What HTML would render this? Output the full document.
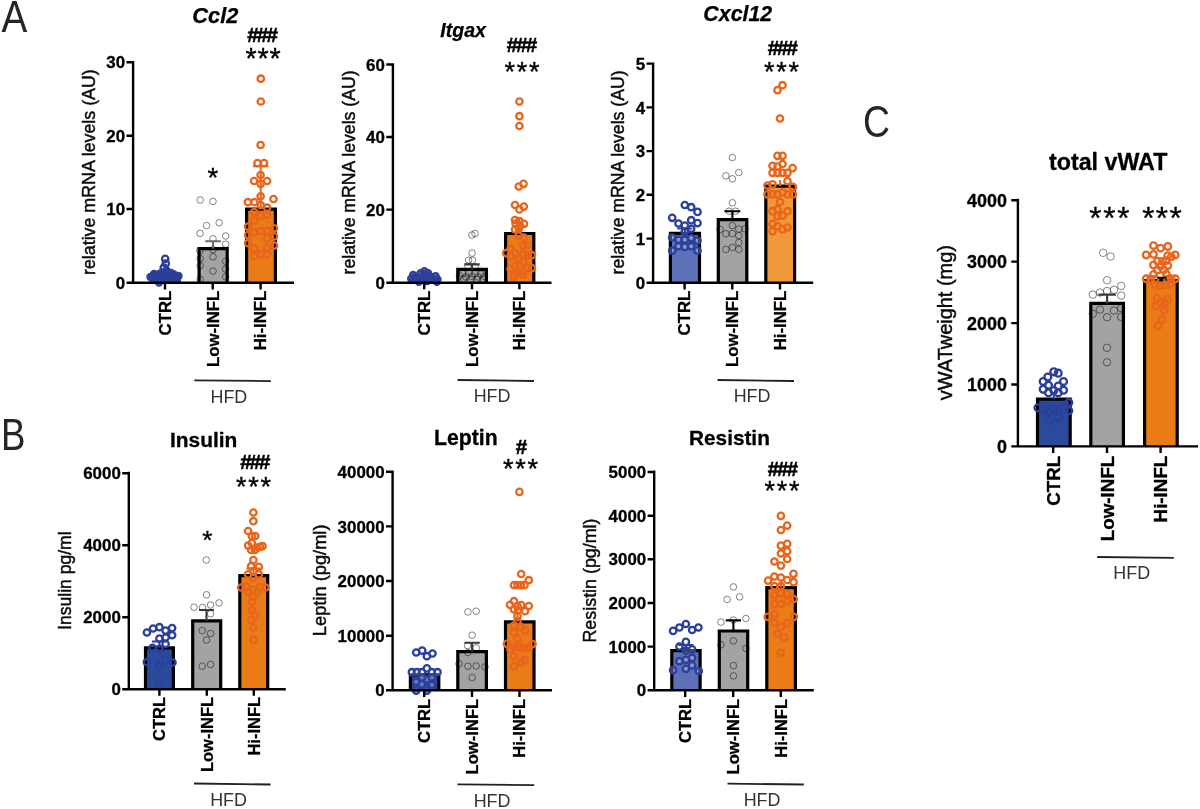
<!DOCTYPE html>
<html lang="en"><head><meta charset="utf-8"><title>Figure</title>
<style>
html,body{margin:0;padding:0;background:#fff;}
body{width:1200px;height:809px;overflow:hidden;}
svg{display:block;filter:blur(0.35px);}
text{font-family:"Liberation Sans", Arial, Helvetica, sans-serif;}
.b{font-weight:bold;fill:#000;stroke:#000;stroke-width:0.3;}
.bi{font-weight:bold;font-style:italic;fill:#000;stroke:#000;stroke-width:0.25;}
.r{fill:#0a0a0a;stroke:#0a0a0a;stroke-width:0.45;}
.s{fill:#000;stroke:#000;stroke-width:0.35;}
.hs{font-weight:bold;fill:#000;stroke:#000;stroke-width:0.55;}
.l{fill:#262522;}
.h{fill:#333;}
.ax{stroke:#000;stroke-width:2.4;fill:none;stroke-linecap:butt;}
.bar{stroke:#000;stroke-width:3.2;fill:none;stroke-linejoin:miter;}
.db{fill:none;stroke:#2b3f9b;stroke-width:2.3;}
.dbf{fill:#2b3f9b;fill-opacity:0.8;stroke:#2b3f9b;stroke-width:2;}
.dbw{fill:#fff;fill-opacity:0.28;stroke:#2b3f9b;stroke-width:2.3;}
.dg{fill:none;stroke:#000;stroke-opacity:0.5;stroke-width:0.95;}
.do{fill:none;stroke:#e8651c;stroke-width:2.3;}
.eb{stroke:#2b3f9b;stroke-width:2.1;fill:none;}
.eg{stroke:#6e6e6e;stroke-width:2.1;fill:none;}
.eo{stroke:#e8651c;stroke-width:2.1;fill:none;}
.ek{stroke:#000;stroke-width:2.1;fill:none;}
.ek2{stroke:#3c3c3c;stroke-width:2.1;fill:none;}
.hl{stroke:#222;stroke-width:1.8;fill:none;}
</style></head><body>
<svg width="1200" height="809" viewBox="0 0 1200 809">
<rect width="1200" height="809" fill="#fff"/>
<text class="l" transform="matrix(0.3864 0 0 0.4526 1.56 32)" font-size="100">A</text>
<text class="l" transform="matrix(0.3664 0 0 0.4486 0.97 450.25)" font-size="100">B</text>
<text class="l" transform="matrix(0.3730 0 0 0.4472 862.88 137.05)" font-size="100">C</text>
<g id="ccl2">
<rect x="150.5" y="277" width="29.5" height="5.8" fill="#2a4a9c"/>
<path class="bar" d="M151.1 282.8V277.6H179.4V282.8" style="stroke:#2b3f9b"/>
<rect x="198.5" y="248" width="29.3" height="34.8" fill="#a3a3a5"/>
<path class="bar" d="M199.1 282.8V248.6H227.2V282.8"/>
<rect x="246" y="208.5" width="30" height="74.3" fill="#ea7c17"/>
<path class="bar" d="M246.6 282.8V209.1H275.4V282.8"/>
<circle class="db" cx="165.2" cy="258.9" r="3.2"/>
<circle class="db" cx="165.8" cy="263.6" r="3.2"/>
<circle class="db" cx="163.8" cy="267.7" r="3.2"/>
<circle class="dbf" cx="166.5" cy="270.5" r="3.2"/>
<circle class="dbf" cx="152.5" cy="276.5" r="3.2"/>
<circle class="dbf" cx="155.5" cy="275.5" r="3.2"/>
<circle class="dbf" cx="158.5" cy="276.5" r="3.2"/>
<circle class="dbf" cx="161.5" cy="276" r="3.2"/>
<circle class="dbf" cx="164.5" cy="276.5" r="3.2"/>
<circle class="dbf" cx="167.5" cy="276" r="3.2"/>
<circle class="dbf" cx="170.5" cy="276.5" r="3.2"/>
<circle class="dbf" cx="173.5" cy="276" r="3.2"/>
<circle class="dbf" cx="176.5" cy="276.5" r="3.2"/>
<circle class="dbf" cx="178.5" cy="276" r="3.2"/>
<circle class="dbf" cx="154" cy="274" r="3.2"/>
<circle class="dbf" cx="160" cy="273.5" r="3.2"/>
<circle class="dbf" cx="168" cy="273.5" r="3.2"/>
<circle class="dbf" cx="174" cy="274.5" r="3.2"/>
<circle class="dbf" cx="163" cy="272.5" r="3.2"/>
<circle class="dbf" cx="171" cy="273" r="3.2"/>
<circle class="dbf" cx="157" cy="278" r="3.2"/>
<circle class="dbf" cx="159" cy="282.5" r="3.2"/>
<circle class="dbf" cx="150.5" cy="277" r="3.2"/>
<circle class="dbf" cx="169" cy="278" r="3.2"/>
<circle class="dg" cx="200.1" cy="200" r="3.3"/>
<circle class="dg" cx="213" cy="201.4" r="3.3"/>
<circle class="dg" cx="206.6" cy="225.6" r="3.3"/>
<circle class="dg" cx="219.2" cy="222.8" r="3.3"/>
<circle class="dg" cx="200.1" cy="233.4" r="3.3"/>
<circle class="dg" cx="225.7" cy="236" r="3.3"/>
<circle class="dg" cx="213" cy="238.8" r="3.3"/>
<circle class="dg" cx="225.7" cy="244.2" r="3.3"/>
<circle class="dg" cx="199.8" cy="250.7" r="3.3"/>
<circle class="dg" cx="213" cy="249.6" r="3.3"/>
<circle class="dg" cx="213" cy="256.8" r="3.3"/>
<circle class="dg" cx="200.1" cy="258.6" r="3.3"/>
<circle class="dg" cx="225.7" cy="261.3" r="3.3"/>
<circle class="dg" cx="200.1" cy="265.7" r="3.3"/>
<circle class="dg" cx="225.7" cy="269.1" r="3.3"/>
<circle class="dg" cx="213" cy="271.1" r="3.3"/>
<circle class="dg" cx="225.7" cy="276.8" r="3.3"/>
<circle class="dg" cx="200.1" cy="279.3" r="3.3"/>
<circle class="do" cx="260.8" cy="78.7" r="3.2"/>
<circle class="do" cx="260.8" cy="101.5" r="3.2"/>
<circle class="do" cx="260.6" cy="145" r="3.2"/>
<circle class="do" cx="257.5" cy="163.1" r="3.2"/>
<circle class="do" cx="264" cy="163.1" r="3.2"/>
<circle class="do" cx="260.6" cy="175" r="3.2"/>
<circle class="do" cx="254.1" cy="181" r="3.2"/>
<circle class="do" cx="267.1" cy="181" r="3.2"/>
<circle class="do" cx="260.6" cy="183.8" r="3.2"/>
<circle class="do" cx="260.6" cy="196.3" r="3.2"/>
<circle class="do" cx="273.5" cy="199" r="3.2"/>
<circle class="do" cx="247.9" cy="202.2" r="3.2"/>
<circle class="do" cx="254.3" cy="202.2" r="3.2"/>
<circle class="do" cx="260.7" cy="205.1" r="3.2"/>
<circle class="do" cx="267.1" cy="207.7" r="3.2"/>
<circle class="do" cx="254.2" cy="212" r="3.2"/>
<circle class="do" cx="260.7" cy="215.6" r="3.2"/>
<circle class="do" cx="267.1" cy="215" r="3.2"/>
<circle class="do" cx="254.2" cy="220.5" r="3.2"/>
<circle class="do" cx="248.1" cy="226.6" r="3.2"/>
<circle class="do" cx="274" cy="228.3" r="3.2"/>
<circle class="do" cx="254.2" cy="232.4" r="3.2"/>
<circle class="do" cx="260.8" cy="231" r="3.2"/>
<circle class="do" cx="267.2" cy="231" r="3.2"/>
<circle class="do" cx="248.1" cy="235.1" r="3.2"/>
<circle class="do" cx="274" cy="236.4" r="3.2"/>
<circle class="do" cx="267.2" cy="238.2" r="3.2"/>
<circle class="do" cx="248.1" cy="243.2" r="3.2"/>
<circle class="do" cx="274" cy="245.6" r="3.2"/>
<circle class="do" cx="254.2" cy="248.7" r="3.2"/>
<circle class="do" cx="267.2" cy="247.7" r="3.2"/>
<circle class="do" cx="254.2" cy="256.2" r="3.2"/>
<circle class="do" cx="260.8" cy="254.1" r="3.2"/>
<circle class="do" cx="267.2" cy="254.5" r="3.2"/>
<path class="eb" d="M165.2 274.2V277.5M160.2 274.2H170.2"/>
<path class="eg" d="M213 241.2V248.5M205.2 241.2H220.8"/>
<path class="eo" d="M260.7 166.2V209M252.9 166.2H268.5"/>
<path class="ax" d="M133.1 61.1V284M126.5 282.8H294M126.5 62.3H133.1M126.5 135.7H133.1M126.5 209H133.1M165 282.8V289.4M212.7 282.8V289.4M260.6 282.8V289.4"/>
<text class="b" x="125.1" y="68.43" font-size="16.9" text-anchor="end">30</text>
<text class="b" x="125.1" y="141.83" font-size="16.9" text-anchor="end">20</text>
<text class="b" x="125.1" y="215.13" font-size="16.9" text-anchor="end">10</text>
<text class="b" x="125.1" y="288.93" font-size="16.9" text-anchor="end">0</text>
<text class="b" transform="translate(170.88 290.63) rotate(-90)" font-size="16.8" text-anchor="end">CTRL</text>
<text class="b" transform="translate(218.58 290.63) rotate(-90)" font-size="16.8" text-anchor="end">Low-INFL</text>
<text class="b" transform="translate(266.48 290.63) rotate(-90)" font-size="16.8" text-anchor="end">Hi-INFL</text>
<text class="bi" x="192.31" y="22.5" font-size="21.8">Ccl2</text>
<text class="r" transform="translate(94.8 274.96) rotate(-90)" font-size="17.81">relative mRNA levels (AU)</text>
<text class="hs" x="247.15" y="41.5" font-size="20.5" letter-spacing="-1.7">###</text>
<text class="s" x="245.43" y="68.01" font-size="28.57" letter-spacing="0.89">***</text>
<text class="s" x="207.4" y="187.03" font-size="27.71" letter-spacing="0">*</text>
<path class="hl" d="M194.3 380.3L270.8 381.1"/>
<text class="h" transform="matrix(0.1792 0 0 0.1870 210.47 402.6)" font-size="100">HFD</text>
</g>
<g id="itgax">
<rect x="409.5" y="279.5" width="29.5" height="3.2" fill="#2a4a9c"/>
<path class="bar" d="M410.1 282.7V280.1H438.4V282.7" style="stroke:#2b3f9b"/>
<rect x="457.2" y="268.7" width="29.8" height="14" fill="#a3a3a5"/>
<path class="bar" d="M457.8 282.7V269.3H486.4V282.7"/>
<rect x="505" y="232.9" width="29.4" height="49.8" fill="#ea7c17"/>
<path class="bar" d="M505.6 282.7V233.5H533.8V282.7"/>
<circle class="dbf" cx="413.1" cy="275" r="3.2"/>
<circle class="dbf" cx="424.4" cy="271.2" r="3.2"/>
<circle class="dbf" cx="420.6" cy="273.1" r="3.2"/>
<circle class="dbf" cx="428.1" cy="273.1" r="3.2"/>
<circle class="dbf" cx="435.6" cy="276.2" r="3.2"/>
<circle class="dbf" cx="411.2" cy="278.8" r="3.2"/>
<circle class="dbf" cx="416.2" cy="279.4" r="3.2"/>
<circle class="dbf" cx="421.2" cy="278.8" r="3.2"/>
<circle class="dbf" cx="426.2" cy="278.8" r="3.2"/>
<circle class="dbf" cx="431.2" cy="278.8" r="3.2"/>
<circle class="dbf" cx="437.5" cy="279.4" r="3.2"/>
<circle class="dbf" cx="418.8" cy="281.9" r="3.2"/>
<circle class="dbf" cx="436.9" cy="281.9" r="3.2"/>
<circle class="dbf" cx="423" cy="276" r="3.2"/>
<circle class="dbf" cx="430" cy="276.5" r="3.2"/>
<circle class="dbf" cx="415.5" cy="277" r="3.2"/>
<circle class="dbf" cx="433" cy="279.5" r="3.2"/>
<circle class="dbf" cx="427" cy="281" r="3.2"/>
<circle class="dg" cx="471.9" cy="235" r="3.3"/>
<circle class="dg" cx="475" cy="233.5" r="3.3"/>
<circle class="dg" cx="472.1" cy="253.1" r="3.3"/>
<circle class="dg" cx="468.5" cy="260.2" r="3.3"/>
<circle class="dg" cx="472.5" cy="260.2" r="3.3"/>
<circle class="dg" cx="468.1" cy="266.2" r="3.3"/>
<circle class="dg" cx="475" cy="266.9" r="3.3"/>
<circle class="dg" cx="459.5" cy="276" r="3.3"/>
<circle class="dg" cx="462.5" cy="273.5" r="3.3"/>
<circle class="dg" cx="466" cy="277" r="3.3"/>
<circle class="dg" cx="469" cy="273" r="3.3"/>
<circle class="dg" cx="472" cy="276.5" r="3.3"/>
<circle class="dg" cx="475" cy="273.5" r="3.3"/>
<circle class="dg" cx="478" cy="277" r="3.3"/>
<circle class="dg" cx="481" cy="274" r="3.3"/>
<circle class="dg" cx="484.5" cy="276.5" r="3.3"/>
<circle class="dg" cx="463.5" cy="279" r="3.3"/>
<circle class="dg" cx="470.5" cy="279.5" r="3.3"/>
<circle class="dg" cx="477" cy="279.5" r="3.3"/>
<circle class="dg" cx="483" cy="279" r="3.3"/>
<circle class="do" cx="519.4" cy="101.5" r="3.2"/>
<circle class="do" cx="519.4" cy="116.2" r="3.2"/>
<circle class="do" cx="519.4" cy="126" r="3.2"/>
<circle class="do" cx="523.5" cy="183.8" r="3.2"/>
<circle class="do" cx="518.8" cy="186.5" r="3.2"/>
<circle class="do" cx="515" cy="205" r="3.2"/>
<circle class="do" cx="523.8" cy="206.6" r="3.2"/>
<circle class="do" cx="519.4" cy="209.4" r="3.2"/>
<circle class="do" cx="515" cy="220" r="3.2"/>
<circle class="do" cx="519.4" cy="221" r="3.2"/>
<circle class="do" cx="524" cy="223.8" r="3.2"/>
<circle class="do" cx="515.6" cy="223.5" r="3.2"/>
<circle class="do" cx="520" cy="225.6" r="3.2"/>
<circle class="do" cx="515" cy="229.4" r="3.2"/>
<circle class="do" cx="518.8" cy="228.8" r="3.2"/>
<circle class="do" cx="518.8" cy="235.6" r="3.2"/>
<circle class="do" cx="523.8" cy="237.5" r="3.2"/>
<circle class="do" cx="523.1" cy="245.6" r="3.2"/>
<circle class="do" cx="527.5" cy="245" r="3.2"/>
<circle class="do" cx="510.6" cy="248.8" r="3.2"/>
<circle class="do" cx="506.2" cy="253.1" r="3.2"/>
<circle class="do" cx="531.9" cy="255.2" r="3.2"/>
<circle class="do" cx="515" cy="253.1" r="3.2"/>
<circle class="do" cx="523.1" cy="254.4" r="3.2"/>
<circle class="do" cx="510.6" cy="256.2" r="3.2"/>
<circle class="do" cx="527.5" cy="255" r="3.2"/>
<circle class="do" cx="518.8" cy="258.8" r="3.2"/>
<circle class="do" cx="523.1" cy="261.9" r="3.2"/>
<circle class="do" cx="515" cy="266.2" r="3.2"/>
<circle class="do" cx="519.4" cy="266.9" r="3.2"/>
<circle class="do" cx="510.6" cy="268.8" r="3.2"/>
<circle class="do" cx="531.9" cy="268.1" r="3.2"/>
<circle class="do" cx="527.5" cy="268.1" r="3.2"/>
<circle class="do" cx="523.1" cy="271.2" r="3.2"/>
<circle class="do" cx="518.8" cy="273.8" r="3.2"/>
<circle class="do" cx="515" cy="275" r="3.2"/>
<circle class="do" cx="523.1" cy="275" r="3.2"/>
<circle class="do" cx="513.8" cy="277.5" r="3.2"/>
<path class="ek2" d="M472 264.4V269.2M464.3 264.4H479.7"/>
<path class="eo" d="M519.4 219V233.4"/>
<path class="ax" d="M392.9 63.3V283.9M386.3 282.7H551.5M386.3 64.5H392.9M386.3 137H392.9M386.3 209.6H392.9M424.2 282.7V289.3M472 282.7V289.3M519.4 282.7V289.3"/>
<text class="b" x="384.9" y="70.63" font-size="16.9" text-anchor="end">60</text>
<text class="b" x="384.9" y="143.13" font-size="16.9" text-anchor="end">40</text>
<text class="b" x="384.9" y="215.73" font-size="16.9" text-anchor="end">20</text>
<text class="b" x="384.9" y="288.83" font-size="16.9" text-anchor="end">0</text>
<text class="b" transform="translate(430.08 290.63) rotate(-90)" font-size="16.8" text-anchor="end">CTRL</text>
<text class="b" transform="translate(477.88 290.63) rotate(-90)" font-size="16.8" text-anchor="end">Low-INFL</text>
<text class="b" transform="translate(525.28 290.63) rotate(-90)" font-size="16.8" text-anchor="end">Hi-INFL</text>
<text class="bi" x="440.31" y="36.8" font-size="19.57">Itgax</text>
<text class="r" transform="translate(354.8 274.45) rotate(-90)" font-size="17.66">relative mRNA levels (AU)</text>
<text class="hs" x="506.66" y="51.8" font-size="20.2" letter-spacing="-1.56">###</text>
<text class="s" x="504.46" y="80.54" font-size="27.14" letter-spacing="1.69">***</text>
<path class="hl" d="M457.5 380L534 381"/>
<text class="h" transform="matrix(0.1792 0 0 0.1870 473.67 402.3)" font-size="100">HFD</text>
</g>
<g id="cxcl12">
<rect x="669.8" y="232.8" width="30.3" height="50" fill="#5e70b7"/>
<path class="bar" d="M670.4 282.8V233.4H699.5V282.8"/>
<rect x="717.7" y="219" width="29.7" height="63.8" fill="#a3a3a5"/>
<path class="bar" d="M718.3 282.8V219.6H746.8V282.8"/>
<rect x="765.2" y="185.6" width="30" height="97.2" fill="#f0983c"/>
<path class="bar" d="M765.8 282.8V186.2H794.6V282.8"/>
<circle class="dbw" cx="684.8" cy="205" r="3.2"/>
<circle class="dbw" cx="691.2" cy="207.2" r="3.2"/>
<circle class="dbw" cx="697.5" cy="211.9" r="3.2"/>
<circle class="dbw" cx="672.2" cy="217.8" r="3.2"/>
<circle class="dbw" cx="691.2" cy="220.2" r="3.2"/>
<circle class="dbw" cx="678.5" cy="223.5" r="3.2"/>
<circle class="dbw" cx="697.5" cy="223.1" r="3.2"/>
<circle class="dbw" cx="684.8" cy="225.6" r="3.2"/>
<circle class="dbw" cx="691.2" cy="228.8" r="3.2"/>
<circle class="dbw" cx="684.8" cy="231.9" r="3.2"/>
<circle class="dbw" cx="672.2" cy="237.5" r="3.2"/>
<circle class="dbw" cx="697.5" cy="240.6" r="3.2"/>
<circle class="dbw" cx="678.5" cy="239.8" r="3.2"/>
<circle class="dbw" cx="684.8" cy="239.8" r="3.2"/>
<circle class="dbw" cx="691.2" cy="238.1" r="3.2"/>
<circle class="dbw" cx="678.5" cy="246.2" r="3.2"/>
<circle class="dbw" cx="684.8" cy="246.9" r="3.2"/>
<circle class="dbw" cx="691.2" cy="246.2" r="3.2"/>
<circle class="dbw" cx="672.2" cy="250.6" r="3.2"/>
<circle class="dbw" cx="697.5" cy="250.6" r="3.2"/>
<circle class="dg" cx="732.4" cy="157.5" r="3.3"/>
<circle class="dg" cx="738.8" cy="172.5" r="3.3"/>
<circle class="dg" cx="725.9" cy="175.9" r="3.3"/>
<circle class="dg" cx="732.4" cy="178.8" r="3.3"/>
<circle class="dg" cx="732.4" cy="202.8" r="3.3"/>
<circle class="dg" cx="729.1" cy="211.2" r="3.3"/>
<circle class="dg" cx="735.6" cy="211.2" r="3.3"/>
<circle class="dg" cx="732.4" cy="225.6" r="3.3"/>
<circle class="dg" cx="738.8" cy="229" r="3.3"/>
<circle class="dg" cx="745" cy="228.8" r="3.3"/>
<circle class="dg" cx="720" cy="229.4" r="3.3"/>
<circle class="dg" cx="725.9" cy="233.8" r="3.3"/>
<circle class="dg" cx="732.4" cy="233.5" r="3.3"/>
<circle class="dg" cx="738.8" cy="235.6" r="3.3"/>
<circle class="dg" cx="738.8" cy="242.5" r="3.3"/>
<circle class="dg" cx="732.4" cy="247.5" r="3.3"/>
<circle class="dg" cx="725.9" cy="249.4" r="3.3"/>
<circle class="dg" cx="738.8" cy="249.4" r="3.3"/>
<circle class="do" cx="782.5" cy="85.2" r="3.2"/>
<circle class="do" cx="777.5" cy="90.2" r="3.2"/>
<circle class="do" cx="780" cy="118.5" r="3.2"/>
<circle class="do" cx="777.5" cy="155.8" r="3.2"/>
<circle class="do" cx="782.5" cy="155.8" r="3.2"/>
<circle class="do" cx="782.5" cy="164" r="3.2"/>
<circle class="do" cx="772.5" cy="165.8" r="3.2"/>
<circle class="do" cx="777.5" cy="166.6" r="3.2"/>
<circle class="do" cx="792.6" cy="168.1" r="3.2"/>
<circle class="do" cx="772.5" cy="172.8" r="3.2"/>
<circle class="do" cx="777.5" cy="172.8" r="3.2"/>
<circle class="do" cx="782.5" cy="172.8" r="3.2"/>
<circle class="do" cx="787.5" cy="172.8" r="3.2"/>
<circle class="do" cx="787.5" cy="181.2" r="3.2"/>
<circle class="do" cx="772.5" cy="184.4" r="3.2"/>
<circle class="do" cx="767.5" cy="185.6" r="3.2"/>
<circle class="do" cx="792.8" cy="186.9" r="3.2"/>
<circle class="do" cx="767.5" cy="194.4" r="3.2"/>
<circle class="do" cx="772.5" cy="194.4" r="3.2"/>
<circle class="do" cx="777.5" cy="194.4" r="3.2"/>
<circle class="do" cx="782.5" cy="192.5" r="3.2"/>
<circle class="do" cx="787.5" cy="194.4" r="3.2"/>
<circle class="do" cx="792.8" cy="194.4" r="3.2"/>
<circle class="do" cx="780" cy="201.9" r="3.2"/>
<circle class="do" cx="772.5" cy="211.2" r="3.2"/>
<circle class="do" cx="777.5" cy="209.4" r="3.2"/>
<circle class="do" cx="787.5" cy="211.2" r="3.2"/>
<circle class="do" cx="777.5" cy="216.2" r="3.2"/>
<circle class="do" cx="782.5" cy="215.6" r="3.2"/>
<circle class="do" cx="772.5" cy="223.8" r="3.2"/>
<circle class="do" cx="777.5" cy="226.2" r="3.2"/>
<circle class="do" cx="787.5" cy="227.5" r="3.2"/>
<circle class="do" cx="782.5" cy="229.4" r="3.2"/>
<circle class="do" cx="772.5" cy="231.2" r="3.2"/>
<path class="eb" d="M684.8 228.5V233.3M677.3 228.5H692.3"/>
<path class="ek" d="M732.4 211.2V219.5M724.4 211.2H740.4"/>
<path class="eo" d="M780 180V186.1"/>
<path class="ax" d="M653.1 62.4V284M646.5 282.8H813.2M646.5 63.6H653.1M646.5 107.4H653.1M646.5 151.1H653.1M646.5 194.8H653.1M646.5 238.6H653.1M684.6 282.8V289.4M732.3 282.8V289.4M780 282.8V289.4"/>
<text class="b" x="645.1" y="69.73" font-size="16.9" text-anchor="end">5</text>
<text class="b" x="645.1" y="113.53" font-size="16.9" text-anchor="end">4</text>
<text class="b" x="645.1" y="157.23" font-size="16.9" text-anchor="end">3</text>
<text class="b" x="645.1" y="200.93" font-size="16.9" text-anchor="end">2</text>
<text class="b" x="645.1" y="244.73" font-size="16.9" text-anchor="end">1</text>
<text class="b" x="645.1" y="288.93" font-size="16.9" text-anchor="end">0</text>
<text class="b" transform="translate(690.48 290.63) rotate(-90)" font-size="16.8" text-anchor="end">CTRL</text>
<text class="b" transform="translate(738.18 290.63) rotate(-90)" font-size="16.8" text-anchor="end">Low-INFL</text>
<text class="b" transform="translate(785.88 290.63) rotate(-90)" font-size="16.8" text-anchor="end">Hi-INFL</text>
<text class="bi" x="703.33" y="20.5" font-size="21.39">Cxcl12</text>
<text class="r" transform="translate(624.2 274.45) rotate(-90)" font-size="17.66">relative mRNA levels (AU)</text>
<text class="hs" x="767.65" y="54.5" font-size="20.5" letter-spacing="-1.95">###</text>
<text class="s" x="763.96" y="81.04" font-size="27.14" letter-spacing="1.69">***</text>
<path class="hl" d="M717.5 380L794 381"/>
<text class="h" transform="matrix(0.1792 0 0 0.1870 733.67 402.3)" font-size="100">HFD</text>
</g>
<g id="insulin">
<rect x="144.9" y="647.2" width="29.1" height="42" fill="#2a4a9c"/>
<path class="bar" d="M145.5 689.2V647.8H173.4V689.2"/>
<rect x="192.1" y="620.2" width="29.2" height="69" fill="#a3a3a5"/>
<path class="bar" d="M192.7 689.2V620.8H220.7V689.2"/>
<rect x="239.2" y="575" width="29.1" height="114.2" fill="#ea7c17"/>
<path class="bar" d="M239.8 689.2V575.6H267.7V689.2"/>
<circle class="db" cx="146.9" cy="632.5" r="3.2"/>
<circle class="db" cx="153.1" cy="628.5" r="3.2"/>
<circle class="db" cx="159.4" cy="627.2" r="3.2"/>
<circle class="db" cx="165.6" cy="630.6" r="3.2"/>
<circle class="db" cx="172.1" cy="628.1" r="3.2"/>
<circle class="db" cx="172.1" cy="635.2" r="3.2"/>
<circle class="db" cx="165.6" cy="637.5" r="3.2"/>
<circle class="db" cx="159.4" cy="638.5" r="3.2"/>
<circle class="db" cx="165.6" cy="644" r="3.2"/>
<circle class="db" cx="152.5" cy="647.8" r="3.2"/>
<circle class="db" cx="159.4" cy="648.8" r="3.2"/>
<circle class="db" cx="146.9" cy="662.2" r="3.2"/>
<circle class="db" cx="165.6" cy="659.8" r="3.2"/>
<circle class="db" cx="172.5" cy="662.5" r="3.2"/>
<circle class="db" cx="159.4" cy="665.6" r="3.2"/>
<circle class="db" cx="159.4" cy="682.5" r="3.2"/>
<circle class="dg" cx="206.3" cy="560" r="3.3"/>
<circle class="dg" cx="206.5" cy="594.8" r="3.3"/>
<circle class="dg" cx="219" cy="602.9" r="3.3"/>
<circle class="dg" cx="210.6" cy="605" r="3.3"/>
<circle class="dg" cx="194" cy="607.2" r="3.3"/>
<circle class="dg" cx="202.5" cy="607.5" r="3.3"/>
<circle class="dg" cx="210.6" cy="613.8" r="3.3"/>
<circle class="dg" cx="202.2" cy="630.6" r="3.3"/>
<circle class="dg" cx="210.6" cy="633.5" r="3.3"/>
<circle class="dg" cx="206.5" cy="640" r="3.3"/>
<circle class="dg" cx="210.6" cy="664.4" r="3.3"/>
<circle class="dg" cx="202.2" cy="666.2" r="3.3"/>
<circle class="do" cx="253.4" cy="512.5" r="3.2"/>
<circle class="do" cx="253.4" cy="521.2" r="3.2"/>
<circle class="do" cx="248.1" cy="531" r="3.2"/>
<circle class="do" cx="251.9" cy="536.2" r="3.2"/>
<circle class="do" cx="255.2" cy="536" r="3.2"/>
<circle class="do" cx="251.9" cy="543.1" r="3.2"/>
<circle class="do" cx="248.1" cy="545.6" r="3.2"/>
<circle class="do" cx="262.5" cy="546.2" r="3.2"/>
<circle class="do" cx="257.5" cy="547.5" r="3.2"/>
<circle class="do" cx="260" cy="546.9" r="3.2"/>
<circle class="do" cx="251.2" cy="550" r="3.2"/>
<circle class="do" cx="255" cy="550" r="3.2"/>
<circle class="do" cx="253.4" cy="560" r="3.2"/>
<circle class="do" cx="251.2" cy="566.2" r="3.2"/>
<circle class="do" cx="258.8" cy="566.9" r="3.2"/>
<circle class="do" cx="253.4" cy="571.2" r="3.2"/>
<circle class="do" cx="248.1" cy="574.4" r="3.2"/>
<circle class="do" cx="258.8" cy="574.4" r="3.2"/>
<circle class="do" cx="253.4" cy="578.1" r="3.2"/>
<circle class="do" cx="241.2" cy="587.5" r="3.2"/>
<circle class="do" cx="265.6" cy="587.5" r="3.2"/>
<circle class="do" cx="246.2" cy="586.9" r="3.2"/>
<circle class="do" cx="260" cy="586.9" r="3.2"/>
<circle class="do" cx="253.4" cy="589.4" r="3.2"/>
<circle class="do" cx="248.1" cy="591.9" r="3.2"/>
<circle class="do" cx="257.5" cy="591.9" r="3.2"/>
<circle class="do" cx="253.4" cy="596.2" r="3.2"/>
<circle class="do" cx="251.9" cy="601.9" r="3.2"/>
<circle class="do" cx="251.9" cy="610" r="3.2"/>
<circle class="do" cx="255.2" cy="615.6" r="3.2"/>
<circle class="do" cx="251.2" cy="620" r="3.2"/>
<circle class="do" cx="253.4" cy="627.5" r="3.2"/>
<circle class="do" cx="253.4" cy="639.8" r="3.2"/>
<path class="eb" d="M159.4 641.5V647.7M151.9 641.5H166.9"/>
<path class="ek2" d="M206.5 610V620.7M199 610H214"/>
<path class="eo" d="M253.4 568.5V575.5M246.4 568.5H260.4"/>
<path class="ax" d="M128.8 471.8V690.4M122.2 689.2H285.8M122.2 473.2H128.8M122.2 545.2H128.8M122.2 617.2H128.8M159.4 689.2V695.8M206.8 689.2V695.8M253.8 689.2V695.8"/>
<text class="b" x="120.8" y="479.33" font-size="16.9" text-anchor="end">6000</text>
<text class="b" x="120.8" y="551.33" font-size="16.9" text-anchor="end">4000</text>
<text class="b" x="120.8" y="623.33" font-size="16.9" text-anchor="end">2000</text>
<text class="b" x="120.8" y="695.33" font-size="16.9" text-anchor="end">0</text>
<text class="b" transform="translate(165.18 696.94) rotate(-90)" font-size="16.5" text-anchor="end">CTRL</text>
<text class="b" transform="translate(212.58 696.94) rotate(-90)" font-size="16.5" text-anchor="end">Low-INFL</text>
<text class="b" transform="translate(259.57 696.94) rotate(-90)" font-size="16.5" text-anchor="end">Hi-INFL</text>
<text class="b" x="170.04" y="447" font-size="20.9">Insulin</text>
<text class="r" transform="translate(71 629.88) rotate(-90)" font-size="17.54">Insulin pg/ml</text>
<text class="hs" x="240.15" y="468.5" font-size="20.5" letter-spacing="-1.95">###</text>
<text class="s" x="235.96" y="495.54" font-size="27.14" letter-spacing="1.69">***</text>
<text class="s" x="202.37" y="549.15" font-size="26.29" letter-spacing="0">*</text>
<path class="hl" d="M194 783.5L270.5 784.5"/>
<text class="h" transform="matrix(0.1792 0 0 0.1870 210.17 805.8)" font-size="100">HFD</text>
</g>
<g id="leptin">
<rect x="409.8" y="674.3" width="29.6" height="16" fill="#2a4a9c"/>
<path class="bar" d="M410.4 690.3V674.9H438.8V690.3"/>
<rect x="457.2" y="651.1" width="29.8" height="39.2" fill="#a3a3a5"/>
<path class="bar" d="M457.8 690.3V651.7H486.4V690.3"/>
<rect x="504.9" y="621.2" width="29.7" height="69.1" fill="#ea7c17"/>
<path class="bar" d="M505.5 690.3V621.8H534V690.3"/>
<circle class="dbw" cx="416.2" cy="652.5" r="3.2"/>
<circle class="dbw" cx="422.2" cy="650.6" r="3.2"/>
<circle class="dbw" cx="426.9" cy="656.2" r="3.2"/>
<circle class="dbw" cx="432.5" cy="653.5" r="3.2"/>
<circle class="dbw" cx="426.9" cy="668.4" r="3.2"/>
<circle class="dbw" cx="411.9" cy="672.2" r="3.2"/>
<circle class="dbw" cx="416.9" cy="672.2" r="3.2"/>
<circle class="dbw" cx="421.9" cy="672.2" r="3.2"/>
<circle class="dbw" cx="431.9" cy="672.2" r="3.2"/>
<circle class="dbw" cx="437.5" cy="672.2" r="3.2"/>
<circle class="dbw" cx="416.2" cy="681.9" r="3.2"/>
<circle class="dbw" cx="421.9" cy="684.4" r="3.2"/>
<circle class="dbw" cx="426.9" cy="679.4" r="3.2"/>
<circle class="dbw" cx="431.9" cy="677.5" r="3.2"/>
<circle class="dbw" cx="431.9" cy="685" r="3.2"/>
<circle class="dbw" cx="416.2" cy="688.1" r="3.2"/>
<circle class="dbw" cx="426.9" cy="688.1" r="3.2"/>
<circle class="dbw" cx="421.9" cy="677.5" r="3.2"/>
<circle class="dbw" cx="416.2" cy="690.6" r="3.2"/>
<circle class="dbw" cx="426.9" cy="690.6" r="3.2"/>
<circle class="dg" cx="467.9" cy="611.9" r="3.3"/>
<circle class="dg" cx="476.2" cy="611.2" r="3.3"/>
<circle class="dg" cx="472.1" cy="635.2" r="3.3"/>
<circle class="dg" cx="467.5" cy="645.6" r="3.3"/>
<circle class="dg" cx="476.2" cy="647.8" r="3.3"/>
<circle class="dg" cx="467.9" cy="652.5" r="3.3"/>
<circle class="dg" cx="459" cy="663.8" r="3.3"/>
<circle class="dg" cx="467.9" cy="666.2" r="3.3"/>
<circle class="dg" cx="476.2" cy="666" r="3.3"/>
<circle class="dg" cx="485" cy="666.9" r="3.3"/>
<circle class="dg" cx="472.1" cy="677.5" r="3.3"/>
<circle class="do" cx="519.4" cy="491.9" r="3.2"/>
<circle class="do" cx="521.2" cy="574" r="3.2"/>
<circle class="do" cx="528.8" cy="580.2" r="3.2"/>
<circle class="do" cx="514" cy="585.2" r="3.2"/>
<circle class="do" cx="517.5" cy="585.2" r="3.2"/>
<circle class="do" cx="521" cy="585.2" r="3.2"/>
<circle class="do" cx="524.5" cy="585.2" r="3.2"/>
<circle class="do" cx="514" cy="601.2" r="3.2"/>
<circle class="do" cx="510" cy="604.8" r="3.2"/>
<circle class="do" cx="521.2" cy="605" r="3.2"/>
<circle class="do" cx="528.8" cy="606" r="3.2"/>
<circle class="do" cx="517.5" cy="606.2" r="3.2"/>
<circle class="do" cx="514" cy="609.4" r="3.2"/>
<circle class="do" cx="518.1" cy="610" r="3.2"/>
<circle class="do" cx="525" cy="611.2" r="3.2"/>
<circle class="do" cx="517.5" cy="616.2" r="3.2"/>
<circle class="do" cx="517.5" cy="621.2" r="3.2"/>
<circle class="do" cx="514" cy="625.6" r="3.2"/>
<circle class="do" cx="520.6" cy="626.9" r="3.2"/>
<circle class="do" cx="525" cy="630.6" r="3.2"/>
<circle class="do" cx="514" cy="632.5" r="3.2"/>
<circle class="do" cx="517.5" cy="638.8" r="3.2"/>
<circle class="do" cx="506.9" cy="643.8" r="3.2"/>
<circle class="do" cx="532.5" cy="644" r="3.2"/>
<circle class="do" cx="514" cy="646.9" r="3.2"/>
<circle class="do" cx="517.5" cy="646.2" r="3.2"/>
<circle class="do" cx="521" cy="648.1" r="3.2"/>
<circle class="do" cx="524.5" cy="648.1" r="3.2"/>
<circle class="do" cx="528.8" cy="647.5" r="3.2"/>
<circle class="do" cx="510.6" cy="649.4" r="3.2"/>
<circle class="do" cx="514" cy="656.2" r="3.2"/>
<circle class="do" cx="524.5" cy="660" r="3.2"/>
<circle class="do" cx="521.2" cy="662.5" r="3.2"/>
<circle class="do" cx="514" cy="666.4" r="3.2"/>
<path class="ek2" d="M472.1 642.8V651.6M464.4 642.8H479.8"/>
<path class="eo" d="M517.5 612V621.7"/>
<path class="ax" d="M392.6 470.4V691.5M386 690.3H552M386 471.7H392.6M386 526.4H392.6M386 581H392.6M386 635.7H392.6M424.2 690.3V696.9M472 690.3V696.9M519.5 690.3V696.9"/>
<text class="b" x="384.6" y="477.83" font-size="16.9" text-anchor="end">40000</text>
<text class="b" x="384.6" y="532.53" font-size="16.9" text-anchor="end">30000</text>
<text class="b" x="384.6" y="587.13" font-size="16.9" text-anchor="end">20000</text>
<text class="b" x="384.6" y="641.83" font-size="16.9" text-anchor="end">10000</text>
<text class="b" x="384.6" y="696.43" font-size="16.9" text-anchor="end">0</text>
<text class="b" transform="translate(430.01 698.84) rotate(-90)" font-size="16.6" text-anchor="end">CTRL</text>
<text class="b" transform="translate(477.81 698.84) rotate(-90)" font-size="16.6" text-anchor="end">Low-INFL</text>
<text class="b" transform="translate(525.31 698.84) rotate(-90)" font-size="16.6" text-anchor="end">Hi-INFL</text>
<text class="b" x="434.02" y="445" font-size="21.22">Leptin</text>
<text class="r" transform="translate(326.1 636.16) rotate(-90)" font-size="18.27">Leptin (pg/ml)</text>
<text class="hs" x="515.85" y="453.8" font-size="20.5" letter-spacing="0">#</text>
<text class="s" x="502.96" y="477.54" font-size="27.14" letter-spacing="1.69">***</text>
<path class="hl" d="M457.5 784.3L534.2 785.2"/>
<text class="h" transform="matrix(0.1792 0 0 0.1870 473.67 806.6)" font-size="100">HFD</text>
</g>
<g id="resistin">
<rect x="671.2" y="650" width="29.5" height="40.3" fill="#5e70b7"/>
<path class="bar" d="M671.8 690.3V650.6H700.1V690.3"/>
<rect x="718.7" y="630.4" width="29.6" height="59.9" fill="#a3a3a5"/>
<path class="bar" d="M719.3 690.3V631H747.7V690.3"/>
<rect x="766.2" y="587" width="29.8" height="103.3" fill="#ea7c17"/>
<path class="bar" d="M766.8 690.3V587.6H795.4V690.3"/>
<circle class="dbw" cx="685.9" cy="624" r="3.2"/>
<circle class="dbw" cx="679.4" cy="627.5" r="3.2"/>
<circle class="dbw" cx="698.4" cy="627.5" r="3.2"/>
<circle class="dbw" cx="692.1" cy="630" r="3.2"/>
<circle class="dbw" cx="673.1" cy="630.9" r="3.2"/>
<circle class="dbw" cx="685.9" cy="641.9" r="3.2"/>
<circle class="dbw" cx="679.4" cy="646.5" r="3.2"/>
<circle class="dbw" cx="692.1" cy="649.4" r="3.2"/>
<circle class="dbw" cx="685.9" cy="650.6" r="3.2"/>
<circle class="dbw" cx="692.1" cy="657.9" r="3.2"/>
<circle class="dbw" cx="685.9" cy="659.8" r="3.2"/>
<circle class="dbw" cx="679.4" cy="661.2" r="3.2"/>
<circle class="dbw" cx="692.1" cy="665.4" r="3.2"/>
<circle class="dbw" cx="685.9" cy="668.8" r="3.2"/>
<circle class="dbw" cx="673.1" cy="670.2" r="3.2"/>
<circle class="dbw" cx="698.8" cy="671" r="3.2"/>
<circle class="dg" cx="733.4" cy="586.9" r="3.3"/>
<circle class="dg" cx="739.6" cy="596.9" r="3.3"/>
<circle class="dg" cx="727.1" cy="599.4" r="3.3"/>
<circle class="dg" cx="745.9" cy="618.5" r="3.3"/>
<circle class="dg" cx="720.9" cy="622.1" r="3.3"/>
<circle class="dg" cx="733.4" cy="620" r="3.3"/>
<circle class="dg" cx="733.4" cy="640.9" r="3.3"/>
<circle class="dg" cx="720.9" cy="644.8" r="3.3"/>
<circle class="dg" cx="745.9" cy="648.4" r="3.3"/>
<circle class="dg" cx="733.4" cy="665.6" r="3.3"/>
<circle class="dg" cx="733.4" cy="675.9" r="3.3"/>
<circle class="do" cx="780.9" cy="515.9" r="3.2"/>
<circle class="do" cx="787.2" cy="525.6" r="3.2"/>
<circle class="do" cx="780.9" cy="530" r="3.2"/>
<circle class="do" cx="787.2" cy="543.8" r="3.2"/>
<circle class="do" cx="780.9" cy="545.6" r="3.2"/>
<circle class="do" cx="787.2" cy="551.2" r="3.2"/>
<circle class="do" cx="780.9" cy="553.5" r="3.2"/>
<circle class="do" cx="787.2" cy="559" r="3.2"/>
<circle class="do" cx="774.4" cy="561.5" r="3.2"/>
<circle class="do" cx="780.9" cy="565.6" r="3.2"/>
<circle class="do" cx="793.5" cy="573.8" r="3.2"/>
<circle class="do" cx="774.4" cy="576.5" r="3.2"/>
<circle class="do" cx="780.9" cy="577.5" r="3.2"/>
<circle class="do" cx="768.1" cy="580.6" r="3.2"/>
<circle class="do" cx="787.2" cy="580" r="3.2"/>
<circle class="do" cx="793.5" cy="582.2" r="3.2"/>
<circle class="do" cx="774.4" cy="586.2" r="3.2"/>
<circle class="do" cx="780.9" cy="586.2" r="3.2"/>
<circle class="do" cx="774.4" cy="595.3" r="3.2"/>
<circle class="do" cx="780.9" cy="593.3" r="3.2"/>
<circle class="do" cx="787.2" cy="593.8" r="3.2"/>
<circle class="do" cx="793.7" cy="599" r="3.2"/>
<circle class="do" cx="787.2" cy="601.2" r="3.2"/>
<circle class="do" cx="774.4" cy="604.4" r="3.2"/>
<circle class="do" cx="780.9" cy="604" r="3.2"/>
<circle class="do" cx="774.4" cy="614.4" r="3.2"/>
<circle class="do" cx="767.8" cy="616.9" r="3.2"/>
<circle class="do" cx="793.8" cy="616.9" r="3.2"/>
<circle class="do" cx="774.4" cy="622.8" r="3.2"/>
<circle class="do" cx="787.2" cy="623.1" r="3.2"/>
<circle class="do" cx="780.9" cy="626.9" r="3.2"/>
<circle class="do" cx="777.5" cy="633.8" r="3.2"/>
<circle class="do" cx="784.1" cy="637.5" r="3.2"/>
<circle class="do" cx="780.9" cy="652.8" r="3.2"/>
<path class="eb" d="M685.9 645V650.5M678.4 645H693.4"/>
<path class="ek" d="M733.4 620.4V630.9M725.8 620.4H741"/>
<path class="eo" d="M780.9 581V587.5"/>
<path class="ax" d="M654.2 470.6V691.5M647.6 690.3H813.8M647.6 472H654.2M647.6 515.7H654.2M647.6 559.3H654.2M647.6 603H654.2M647.6 646.6H654.2M685.2 690.3V696.9M733.2 690.3V696.9M780.8 690.3V696.9"/>
<text class="b" x="646.2" y="478.13" font-size="16.9" text-anchor="end">5000</text>
<text class="b" x="646.2" y="521.83" font-size="16.9" text-anchor="end">4000</text>
<text class="b" x="646.2" y="565.43" font-size="16.9" text-anchor="end">3000</text>
<text class="b" x="646.2" y="609.13" font-size="16.9" text-anchor="end">2000</text>
<text class="b" x="646.2" y="652.73" font-size="16.9" text-anchor="end">1000</text>
<text class="b" x="646.2" y="696.43" font-size="16.9" text-anchor="end">0</text>
<text class="b" transform="translate(691.01 698.84) rotate(-90)" font-size="16.6" text-anchor="end">CTRL</text>
<text class="b" transform="translate(739.01 698.84) rotate(-90)" font-size="16.6" text-anchor="end">Low-INFL</text>
<text class="b" transform="translate(786.61 698.84) rotate(-90)" font-size="16.6" text-anchor="end">Hi-INFL</text>
<text class="b" x="689.05" y="445" font-size="20.77">Resistin</text>
<text class="r" transform="translate(596.4 642.53) rotate(-90)" font-size="17.87">Resistin (pg/ml)</text>
<text class="hs" x="767.66" y="475.5" font-size="19.77" letter-spacing="-1.35">###</text>
<text class="s" x="764.46" y="500.04" font-size="27.14" letter-spacing="1.69">***</text>
<path class="hl" d="M727.5 783.6L803.8 784.5"/>
<text class="h" transform="matrix(0.1792 0 0 0.1870 743.67 805.9)" font-size="100">HFD</text>
</g>
<g id="vwat">
<rect x="1036.9" y="398.6" width="33.9" height="47.8" fill="#2a4a9c"/>
<path class="bar" d="M1037.5 446.4V399.2H1070.2V446.4"/>
<rect x="1090.2" y="302.7" width="33.8" height="143.7" fill="#a3a3a5"/>
<path class="bar" d="M1090.8 446.4V303.3H1123.4V446.4"/>
<rect x="1144" y="280" width="33.8" height="166.4" fill="#ea7c17"/>
<path class="bar" d="M1144.6 446.4V280.6H1177.2V446.4"/>
<circle class="db" cx="1053.8" cy="371.8" r="3.45"/>
<circle class="db" cx="1058.2" cy="373.2" r="3.45"/>
<circle class="db" cx="1047.8" cy="377" r="3.45"/>
<circle class="db" cx="1043.2" cy="381.5" r="3.45"/>
<circle class="db" cx="1063.5" cy="381.5" r="3.45"/>
<circle class="db" cx="1048.5" cy="385.2" r="3.45"/>
<circle class="db" cx="1058.2" cy="386" r="3.45"/>
<circle class="db" cx="1043.2" cy="389.3" r="3.45"/>
<circle class="db" cx="1063.5" cy="390.2" r="3.45"/>
<circle class="db" cx="1053.8" cy="390.5" r="3.45"/>
<circle class="db" cx="1048.5" cy="392.8" r="3.45"/>
<circle class="db" cx="1058.2" cy="392.8" r="3.45"/>
<circle class="db" cx="1038" cy="407.8" r="3.45"/>
<circle class="db" cx="1068.8" cy="402.5" r="3.45"/>
<circle class="db" cx="1068.8" cy="410.8" r="3.45"/>
<circle class="db" cx="1044" cy="410" r="3.45"/>
<circle class="db" cx="1048.5" cy="411.5" r="3.45"/>
<circle class="db" cx="1053.8" cy="408.5" r="3.45"/>
<circle class="db" cx="1058.2" cy="410" r="3.45"/>
<circle class="db" cx="1063.5" cy="407.8" r="3.45"/>
<circle class="db" cx="1058.2" cy="417.5" r="3.45"/>
<circle class="db" cx="1048.5" cy="420.5" r="3.45"/>
<circle class="dg" cx="1103.1" cy="252.8" r="3.75"/>
<circle class="dg" cx="1110.6" cy="256.5" r="3.75"/>
<circle class="dg" cx="1107.1" cy="280.2" r="3.75"/>
<circle class="dg" cx="1121.2" cy="285.9" r="3.75"/>
<circle class="dg" cx="1114" cy="289.8" r="3.75"/>
<circle class="dg" cx="1107.1" cy="291" r="3.75"/>
<circle class="dg" cx="1100" cy="292.5" r="3.75"/>
<circle class="dg" cx="1092.8" cy="294.6" r="3.75"/>
<circle class="dg" cx="1121.2" cy="295.6" r="3.75"/>
<circle class="dg" cx="1100" cy="309.6" r="3.75"/>
<circle class="dg" cx="1114" cy="310.6" r="3.75"/>
<circle class="dg" cx="1121.2" cy="308.1" r="3.75"/>
<circle class="dg" cx="1092.8" cy="313.8" r="3.75"/>
<circle class="dg" cx="1107.1" cy="317.2" r="3.75"/>
<circle class="dg" cx="1121.2" cy="316.9" r="3.75"/>
<circle class="dg" cx="1107" cy="347.8" r="3.75"/>
<circle class="dg" cx="1107" cy="362.3" r="3.75"/>
<circle class="do" cx="1153.5" cy="245.6" r="3.3"/>
<circle class="do" cx="1160.6" cy="248.1" r="3.3"/>
<circle class="do" cx="1167.8" cy="246.5" r="3.3"/>
<circle class="do" cx="1146.2" cy="255" r="3.3"/>
<circle class="do" cx="1153.5" cy="254.4" r="3.3"/>
<circle class="do" cx="1175.2" cy="255" r="3.3"/>
<circle class="do" cx="1171.2" cy="256.9" r="3.3"/>
<circle class="do" cx="1167.8" cy="255.6" r="3.3"/>
<circle class="do" cx="1157.5" cy="261.2" r="3.3"/>
<circle class="do" cx="1162.5" cy="261.2" r="3.3"/>
<circle class="do" cx="1166.2" cy="260.6" r="3.3"/>
<circle class="do" cx="1153.5" cy="265" r="3.3"/>
<circle class="do" cx="1167.8" cy="265.6" r="3.3"/>
<circle class="do" cx="1160.6" cy="266.2" r="3.3"/>
<circle class="do" cx="1157.5" cy="270" r="3.3"/>
<circle class="do" cx="1163.8" cy="270" r="3.3"/>
<circle class="do" cx="1153.5" cy="274.4" r="3.3"/>
<circle class="do" cx="1166.2" cy="273.8" r="3.3"/>
<circle class="do" cx="1146.2" cy="278.8" r="3.3"/>
<circle class="do" cx="1150.6" cy="279.2" r="3.3"/>
<circle class="do" cx="1155" cy="279.2" r="3.3"/>
<circle class="do" cx="1167.5" cy="279.2" r="3.3"/>
<circle class="do" cx="1171.2" cy="278.8" r="3.3"/>
<circle class="do" cx="1175.2" cy="278.8" r="3.3"/>
<circle class="do" cx="1155" cy="285" r="3.3"/>
<circle class="do" cx="1160" cy="285.6" r="3.3"/>
<circle class="do" cx="1165" cy="285" r="3.3"/>
<circle class="do" cx="1170" cy="284.4" r="3.3"/>
<circle class="do" cx="1156.9" cy="298.1" r="3.3"/>
<circle class="do" cx="1167.5" cy="299.4" r="3.3"/>
<circle class="do" cx="1160.6" cy="302.5" r="3.3"/>
<circle class="do" cx="1155.6" cy="306.2" r="3.3"/>
<circle class="do" cx="1165" cy="303.1" r="3.3"/>
<circle class="do" cx="1164.1" cy="310.6" r="3.3"/>
<circle class="do" cx="1161.9" cy="319.4" r="3.3"/>
<circle class="do" cx="1158.1" cy="326" r="3.3"/>
<path class="eb" d="M1053.8 392V399.1"/>
<path class="ek2" d="M1107.1 294.6V303.2M1098.35 294.6H1115.85"/>
<path class="ek" d="M1161.9 277.8V280.5M1157.4 277.8H1166.4"/>
<path class="ax" d="M1017.9 198.8V447.6M1011.3 446.4H1198M1011.3 200.2H1017.9M1011.3 261.6H1017.9M1011.3 323.1H1017.9M1011.3 384.5H1017.9M1053.2 446.4V453M1107 446.4V453M1160.6 446.4V453"/>
<text class="b" x="1006.9" y="206.68" font-size="17.9" text-anchor="end">4000</text>
<text class="b" x="1006.9" y="268.08" font-size="17.9" text-anchor="end">3000</text>
<text class="b" x="1006.9" y="329.58" font-size="17.9" text-anchor="end">2000</text>
<text class="b" x="1006.9" y="390.98" font-size="17.9" text-anchor="end">1000</text>
<text class="b" x="1006.9" y="452.88" font-size="17.9" text-anchor="end">0</text>
<text class="b" transform="translate(1059.78 455.65) rotate(-90)" font-size="18.8" text-anchor="end">CTRL</text>
<text class="b" transform="translate(1113.58 455.65) rotate(-90)" font-size="18.8" text-anchor="end">Low-INFL</text>
<text class="b" transform="translate(1167.18 455.65) rotate(-90)" font-size="18.8" text-anchor="end">Hi-INFL</text>
<text class="b" x="1048.97" y="170" font-size="23.25">total vWAT</text>
<text class="r" transform="translate(952.2 400.2) rotate(-90)" font-size="19.95">vWATweight (mg)</text>
<text class="s" x="1089.37" y="229.27" font-size="31.43" letter-spacing="1.77">***</text>
<text class="s" x="1142.17" y="229.27" font-size="31.43" letter-spacing="1.47">***</text>
<path class="hl" d="M1097.2 557L1173.8 557.8"/>
<text class="h" transform="matrix(0.1792 0 0 0.1870 1113.37 579.3)" font-size="100">HFD</text>
</g>
</svg>
</body></html>
